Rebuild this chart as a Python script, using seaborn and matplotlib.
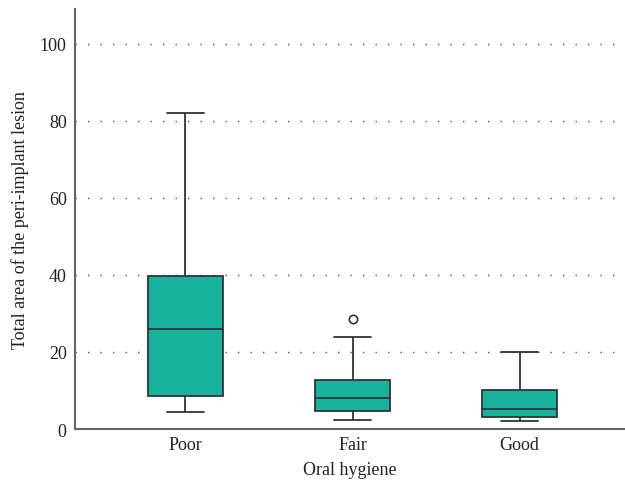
import pandas as pd
import matplotlib
matplotlib.use("Agg")
import matplotlib.pyplot as plt
import seaborn as sns

# Box summaries (total lesion area by oral hygiene)
categories = ["Poor", "Fair", "Good"]
whisker_low = [4.3, 2.4, 2.2]
q1 = [8.6, 4.8, 3.2]
median = [26.0, 8.1, 5.1]
q3 = [39.7, 12.8, 10.2]
whisker_high = [82.0, 23.9, 20.1]
outlier_group = ["Fair"]
outlier_value = [28.6]

y_ticks = [0, 20, 40, 60, 80, 100]


def main():
    # Five-point summaries -> long table (quartiles fall exactly on points)
    rows = []
    for i, cat in enumerate(categories):
        for v in [whisker_low[i], q1[i], median[i], q3[i], whisker_high[i]]:
            rows.append({"group": cat, "value": v})
    box_df = pd.DataFrame(rows)
    out_df = pd.DataFrame({"group": outlier_group, "value": outlier_value})

    sns.set_style("white")
    plt.rcParams["font.family"] = ["Liberation Serif", "DejaVu Serif"]

    fig = plt.figure(figsize=(6.25, 4.85), dpi=100)
    ax = fig.add_axes([0.12, 0.1134, 0.88, 0.866])

    for y in y_ticks:
        ax.axhline(y, color="#555555", lw=1.0, ls=(0, (1, 8)), zorder=0)

    sns.boxplot(data=box_df, x="group", y="value", order=categories,
                whis=(0, 100), width=0.45, color="#17b39c", saturation=1,
                linecolor="#333333", linewidth=1.3, fliersize=0, ax=ax)
    sns.stripplot(data=out_df, x="group", y="value", order=categories,
                  jitter=False, marker="o", size=6, color="white",
                  edgecolor="#333333", linewidth=1.2, ax=ax, zorder=5)

    ax.set_ylim(0, 109)
    ax.set_xlim(-0.66, 2.63)
    ax.set_yticks(y_ticks)
    ax.tick_params(axis="both", length=0, labelsize=13, colors="#222222")
    ax.tick_params(axis="y", pad=6)
    ax.tick_params(axis="x", pad=5)

    ax.set_xlabel("Oral hygiene", fontsize=13, color="#222222", labelpad=6)
    ax.set_ylabel("Total area of the peri-implant lesion", fontsize=13,
                  color="#222222", labelpad=8)

    sns.despine(ax=ax)
    for side in ["left", "bottom"]:
        ax.spines[side].set_color("#666666")
        ax.spines[side].set_linewidth(1.5)

    fig.savefig("out.png", dpi=100)


if __name__ == "__main__":
    main()
